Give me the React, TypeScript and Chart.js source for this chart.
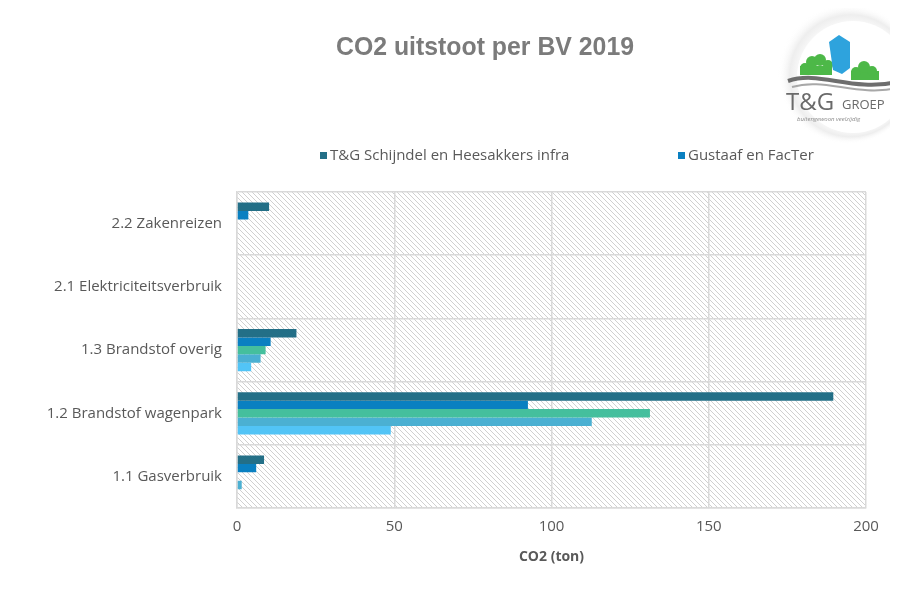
import React, { useEffect, useRef } from "react";
import { Chart, registerables } from "chart.js";

Chart.register(...registerables);

const titleText = "CO2 uitstoot per BV 2019";
const xAxisTitle = "CO2 (ton)";

const categories = [
  "2.2 Zakenreizen",
  "2.1 Elektriciteitsverbruik",
  "1.3 Brandstof overig",
  "1.2 Brandstof wagenpark",
  "1.1 Gasverbruik",
];

const seriesNames = [
  "T&G Schijndel en Heesakkers infra",
  "Gustaaf en FacTer",
  "Serie 3",
  "Serie 4",
  "Serie 5",
];

const series1 = [10.2, 0, 18.9, 189.6, 8.6];
const series2 = [3.6, 0, 10.7, 92.5, 6.1];
const series3 = [0, 0, 9.1, 131.3, 0];
const series4 = [0, 0, 7.5, 112.8, 1.5];
const series5 = [0, 0, 4.5, 48.9, 0];

const seriesColors = ["#236F87", "#0A80C1", "#45BF9D", "#4BB0D2", "#52C4F6"];

const xTicks = [0, 50, 100, 150, 200];

const TEXT = "#595959";
const GRID = "#D9D9D9";
const FONT = "'Open Sans', Lato, sans-serif";

function makeHatch(ctx: CanvasRenderingContext2D) {
  const s = 5;
  const c = document.createElement("canvas");
  c.width = s;
  c.height = s;
  const g = c.getContext("2d")!;
  g.fillStyle = "#ffffff";
  g.fillRect(0, 0, s, s);
  g.strokeStyle = "#CBCBCB";
  g.lineWidth = 0.9;
  g.beginPath();
  g.moveTo(-1, -1);
  g.lineTo(s + 1, s + 1);
  g.moveTo(-1, s - 1);
  g.lineTo(1, s + 1);
  g.moveTo(s - 1, -1);
  g.lineTo(s + 1, 1);
  g.stroke();
  return ctx.createPattern(c, "repeat");
}

const hatchPlugin = {
  id: "hatchBg",
  beforeDraw(chart: any) {
    const { ctx, chartArea } = chart;
    if (!chartArea) return;
    ctx.save();
    const p = makeHatch(ctx);
    if (p) ctx.fillStyle = p;
    ctx.fillRect(chartArea.left, chartArea.top, chartArea.right - chartArea.left, chartArea.bottom - chartArea.top);
    ctx.restore();
  },
};

const titlePlugin = {
  id: "customTitle",
  afterDraw(chart: any) {
    const { ctx } = chart;
    ctx.save();
    ctx.font = `bold 26px 'Liberation Sans', Arial, sans-serif`;
    const w = ctx.measureText(titleText).width;
    const sx = 298 / w;
    ctx.translate(477, 40);
    ctx.scale(sx, 1);
    ctx.fillStyle = "#7B7B7B";
    ctx.textAlign = "center";
    ctx.textBaseline = "middle";
    ctx.fillText(titleText, 0, 0);
    ctx.restore();
  },
};

const legendPlugin = {
  id: "customLegend",
  afterDraw(chart: any) {
    const { ctx } = chart;
    const items = [
      { x: 312, i: 0 },
      { x: 670, i: 1 },
    ];
    ctx.save();
    ctx.font = `15px ${FONT}`;
    ctx.textBaseline = "middle";
    ctx.textAlign = "left";
    items.forEach(({ x, i }) => {
      ctx.fillStyle = seriesColors[i];
      ctx.fillRect(x, 144, 7, 7);
      ctx.fillStyle = TEXT;
      ctx.fillText(chart.data.datasets[i].label, x + 10, 148);
    });
    ctx.restore();
  },
};

const logoPlugin = {
  id: "logo",
  afterDraw(chart: any) {
    const { ctx } = chart;
    const ox = -8;
    const oy = -8;
    ctx.save();
    const cx = 848 + ox;
    const cy = 74 + oy;
    const grad = ctx.createRadialGradient(cx + 6, cy + 4, 50, cx, cy, 70);
    grad.addColorStop(0, "rgba(255,255,255,1)");
    grad.addColorStop(0.55, "rgba(238,238,238,1)");
    grad.addColorStop(1, "rgba(255,255,255,0)");
    ctx.fillStyle = grad;
    ctx.beginPath();
    ctx.arc(cx, cy, 70, 0, Math.PI * 2);
    ctx.fill();
    ctx.fillStyle = "#ffffff";
    ctx.beginPath();
    ctx.arc(cx + 5, cy + 3, 56, 0, Math.PI * 2);
    ctx.fill();
    // green bushes
    ctx.fillStyle = "#4DB848";
    const bush = (x: number, y: number, r: number) => {
      ctx.beginPath();
      ctx.arc(x + ox, y + oy, r, 0, Math.PI * 2);
      ctx.fill();
    };
    ctx.fillRect(800 + ox, 66 + oy, 32, 9);
    bush(805, 68, 5);
    bush(812, 62, 6);
    bush(820, 60, 6);
    bush(828, 65, 5);
    ctx.fillRect(851 + ox, 71 + oy, 28, 9);
    bush(856, 72, 5);
    bush(864, 67, 6);
    bush(872, 71, 5);
    // blue shield
    ctx.fillStyle = "#2EA3DD";
    ctx.beginPath();
    ctx.moveTo(829 + ox, 42 + oy);
    ctx.lineTo(839 + ox, 35 + oy);
    ctx.lineTo(850 + ox, 42 + oy);
    ctx.lineTo(850 + ox, 68 + oy);
    ctx.lineTo(842 + ox, 74 + oy);
    ctx.lineTo(833 + ox, 70 + oy);
    ctx.closePath();
    ctx.fill();
    // grey wave
    ctx.strokeStyle = "#6E6E6E";
    ctx.lineWidth = 4;
    ctx.beginPath();
    ctx.moveTo(788 + ox, 81 + oy);
    ctx.bezierCurveTo(820 + ox, 70 + oy, 850 + ox, 92 + oy, 898 + ox, 82 + oy);
    ctx.stroke();
    ctx.strokeStyle = "#A8A8A8";
    ctx.lineWidth = 2;
    ctx.beginPath();
    ctx.moveTo(792 + ox, 87 + oy);
    ctx.bezierCurveTo(825 + ox, 77 + oy, 855 + ox, 97 + oy, 898 + ox, 88 + oy);
    ctx.stroke();
    // text
    ctx.fillStyle = "#6A6A6A";
    ctx.textBaseline = "alphabetic";
    ctx.textAlign = "left";
    ctx.font = `24px ${FONT}`;
    ctx.fillText("T&G", 786 + ox, 110 + oy);
    ctx.font = `13px ${FONT}`;
    ctx.fillText("GROEP", 842 + ox, 109 + oy);
    ctx.fillStyle = "#8A8A8A";
    ctx.font = `italic 6px ${FONT}`;
    ctx.fillText("buitengewoon veelzijdig", 797 + ox, 121 + oy);
    ctx.restore();
  },
};

export default function App() {
  const ref = useRef<HTMLCanvasElement>(null);

  useEffect(() => {
    document.body.style.overflow = "hidden";
    document.documentElement.style.overflow = "hidden";
    const canvas = ref.current;
    if (!canvas) return;
    const allSeries = [series1, series2, series3, series4, series5];
    const chart = new Chart(canvas, {
      type: "bar",
      data: {
        labels: categories,
        datasets: allSeries.map((d, i) => ({
          label: seriesNames[i],
          data: d,
          backgroundColor: seriesColors[i],
          borderWidth: 0,
          categoryPercentage: 0.667,
          barPercentage: 1,
        })),
      },
      options: {
        indexAxis: "y",
        responsive: false,
        animation: false,
        layout: { padding: { left: 0, right: 96, top: 184, bottom: 29 } },
        plugins: {
          legend: { display: false },
          tooltip: { enabled: false },
          title: { display: false },
        },
        scales: {
          x: {
            min: 0,
            max: 200,
            afterBuildTicks: (scale: any) => {
              scale.ticks = xTicks.map((v) => ({ value: v }));
            },
            ticks: { color: TEXT, font: { family: FONT, size: 15 }, padding: 10 },
            grid: { color: GRID, lineWidth: 1.5, drawTicks: false },
            border: { color: GRID, width: 1.5 },
            title: {
              display: true,
              text: xAxisTitle,
              color: TEXT,
              font: { family: FONT, size: 14, weight: "bold" },
              padding: { top: 2, bottom: 0 },
            },
          },
          y: {
            afterFit: (scale: any) => {
              scale.width = 229;
            },
            ticks: { color: TEXT, font: { family: FONT, size: 15 }, padding: 15 },
            grid: { color: GRID, lineWidth: 1.5, drawTicks: false, offset: true },
            border: { color: GRID, width: 1.5 },
          },
        },
      },
      plugins: [hatchPlugin, titlePlugin, legendPlugin, logoPlugin],
    } as any);
    return () => chart.destroy();
  }, []);

  return (
    <div
      style={{
        position: "relative",
        width: 891,
        height: 588,
        marginTop: -2,
        marginLeft: -1,
        borderTop: "1px solid #D9D9D9",
        borderLeft: "1px solid #D9D9D9",
        overflow: "hidden",
        boxSizing: "border-box",
        background: "#ffffff",
      }}
    >
      <canvas
        ref={ref}
        width={954}
        height={586}
        style={{ position: "absolute", left: 0, top: 1, width: 954, height: 586 }}
      />
    </div>
  );
}
